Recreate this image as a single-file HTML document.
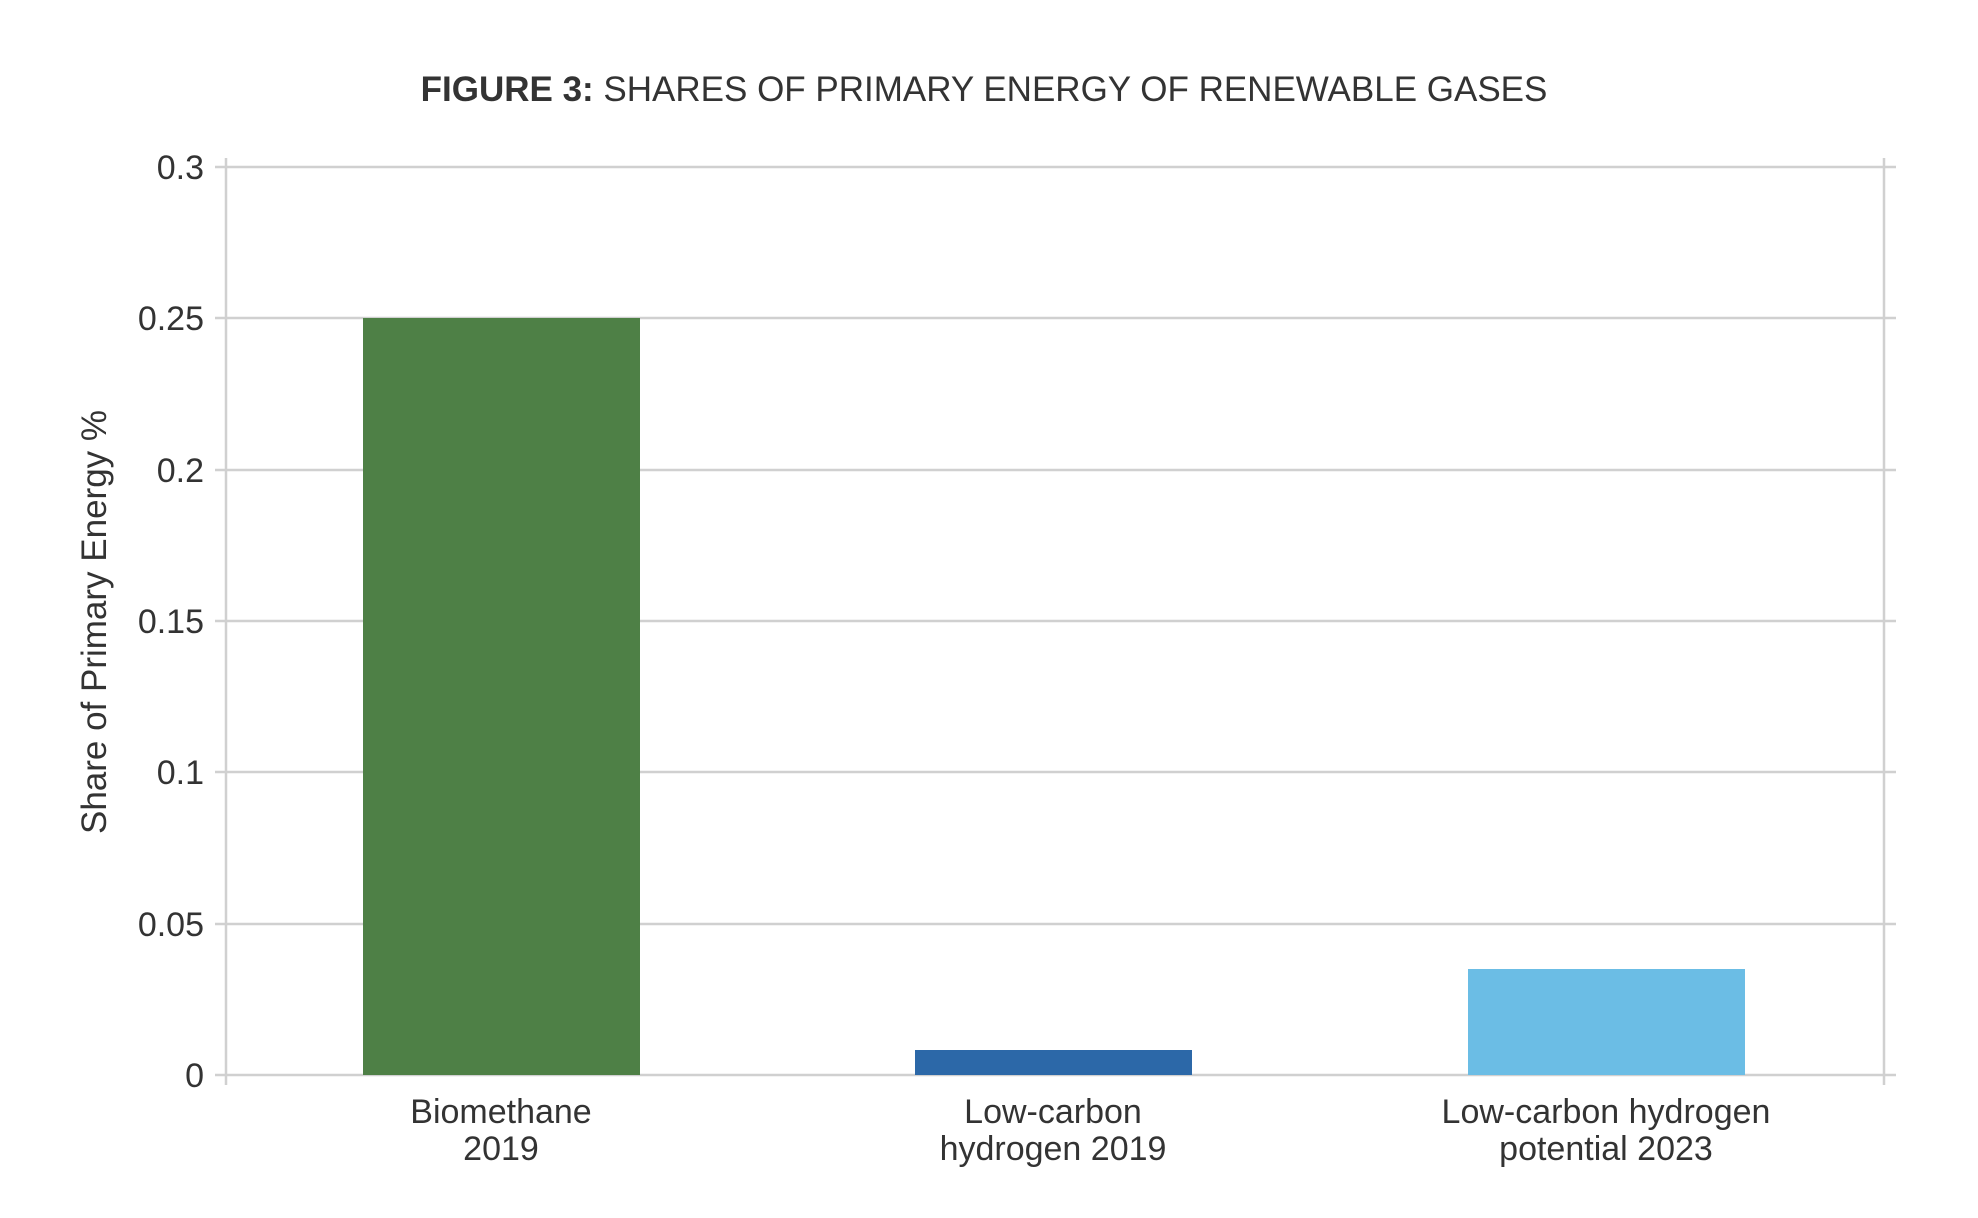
<!DOCTYPE html>
<html><head><meta charset="utf-8"><style>
html,body{margin:0;padding:0;background:#fff;}
svg{display:block;}
</style></head><body>
<svg width="1978" height="1218" viewBox="0 0 1978 1218" xmlns="http://www.w3.org/2000/svg" font-family="Liberation Sans, Arial, sans-serif">
<text x="984" y="101" text-anchor="middle" font-size="35" fill="#333"><tspan font-weight="bold">FIGURE 3:</tspan> SHARES OF PRIMARY ENERGY OF RENEWABLE GASES</text>
<g stroke="#d0d0d0" stroke-width="2.5">
<line x1="215" y1="167" x2="1896" y2="167"/>
<line x1="215" y1="318" x2="1896" y2="318"/>
<line x1="215" y1="470" x2="1896" y2="470"/>
<line x1="215" y1="621" x2="1896" y2="621"/>
<line x1="215" y1="772" x2="1896" y2="772"/>
<line x1="215" y1="924" x2="1896" y2="924"/>
<line x1="215" y1="1075" x2="1896" y2="1075"/>
<line x1="226" y1="158" x2="226" y2="1085"/>
<line x1="1884" y1="158" x2="1884" y2="1085"/>
</g>
<rect x="363" y="318" width="277" height="757" fill="#4e8046"/>
<rect x="915" y="1050" width="277" height="25" fill="#2c68a8"/>
<rect x="1468" y="969" width="277" height="106" fill="#6bbde5"/>
<g font-size="34" fill="#333" text-anchor="end">
<text x="204" y="179">0.3</text>
<text x="204" y="330">0.25</text>
<text x="204" y="482">0.2</text>
<text x="204" y="633">0.15</text>
<text x="204" y="784">0.1</text>
<text x="204" y="936">0.05</text>
<text x="204" y="1087">0</text>
</g>
<text transform="translate(106,622) rotate(-90)" text-anchor="middle" font-size="35" fill="#333">Share of Primary Energy %</text>
<g font-size="34" fill="#333" text-anchor="middle">
<text x="501" y="1123">Biomethane</text>
<text x="501" y="1160">2019</text>
<text x="1053" y="1123">Low-carbon</text>
<text x="1053" y="1160">hydrogen 2019</text>
<text x="1606" y="1123">Low-carbon hydrogen</text>
<text x="1606" y="1160">potential 2023</text>
</g>
</svg>
</body></html>
